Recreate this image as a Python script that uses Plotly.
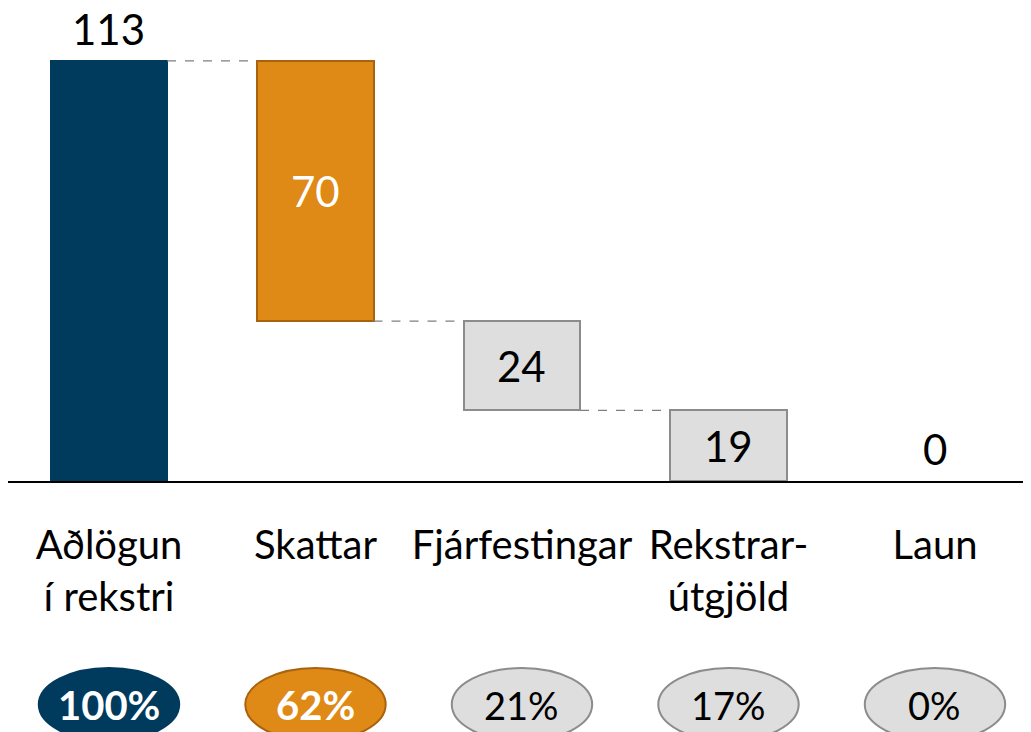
import plotly.graph_objects as go

categories = ["Aðlögun<br>í rekstri", "Skattar", "Fjárfestingar", "Rekstrar-<br>útgjöld", "Laun"]
values = [113, 70, 24, 19, 0]
percent_labels = ["100%", "62%", "21%", "17%", "0%"]

fill_colors = ["#003A5D", "#DF8916", "#DEDEDE", "#DEDEDE", "#DEDEDE"]
line_colors = ["#003A5D", "#A9630F", "#8C8C8C", "#8C8C8C", "#8C8C8C"]
text_colors = ["black", "white", "black", "black", "black"]
pct_text_colors = ["white", "white", "black", "black", "black"]
pct_bold = [True, True, False, False, False]

# waterfall bases: first bar is total, the rest step down
bases = []
level = 0
for i, v in enumerate(values):
    if i == 0:
        bases.append(0)
        level = v
    else:
        level = level - v
        bases.append(level)

xs = list(range(len(categories)))
W = 0.562
FONT = "Lato"

fig = go.Figure()
fig.add_trace(go.Bar(
    x=xs, y=values, base=bases, width=W,
    marker=dict(color=fill_colors, line=dict(color=line_colors,
                                             width=[0 if v == 0 else 2 for v in values])),
    hoverinfo="skip", showlegend=False,
))

# connectors
tops = [b + v for b, v in zip(bases, values)]
shapes = []
for i in range(len(values) - 1):
    lvl = tops[i] if i == 0 else bases[i]
    if lvl <= 0:
        continue
    shapes.append(dict(type="line", xref="x", yref="y",
                       x0=i + W / 2, x1=i + 1 - W / 2, y0=lvl, y1=lvl,
                       line=dict(color="#7F7F7F", width=1.3, dash="dash")))

# value labels
annotations = []
for i, v in enumerate(values):
    if i == 0 or v == 0:
        annotations.append(dict(x=i, y=tops[i], xref="x", yref="y", text=str(v),
                                showarrow=False, yanchor="bottom", yshift=6, borderpad=0,
                                font=dict(family=FONT, size=42, color="black")))
    else:
        annotations.append(dict(x=i, y=bases[i] + v / 2, xref="x", yref="y", text=str(v),
                                showarrow=False, yanchor="middle",
                                font=dict(family=FONT, size=42, color=text_colors[i])))

# percentage ellipses below
FIG_W, FIG_H = 1023, 724
PLOT_H = 473.0
def py(pix):
    return (PLOT_H - pix) / PLOT_H

for i, p in enumerate(percent_labels):
    shapes.append(dict(type="circle", xref="x", yref="paper",
                       x0=i - 0.34, x1=i + 0.34, y0=py(733), y1=py(660),
                       fillcolor=fill_colors[i], line=dict(color=line_colors[i], width=2),
                       layer="above"))
    txt = f"<b>{p}</b>" if pct_bold[i] else p
    annotations.append(dict(x=i, y=py(697), xref="x", yref="paper", text=txt,
                            showarrow=False, yanchor="middle",
                            font=dict(family=FONT, size=40 if pct_bold[i] else 38,
                                      color=pct_text_colors[i])))

fig.update_layout(
    width=FIG_W, height=FIG_H,
    margin=dict(l=0, r=0, t=0, b=FIG_H - int(PLOT_H), autoexpand=False),
    plot_bgcolor="white", paper_bgcolor="white",
    bargap=0,
    shapes=shapes, annotations=annotations,
    xaxis=dict(range=[-0.489, 4.465], tickmode="array", tickvals=xs, ticktext=categories,
               showline=True, linecolor="black", linewidth=2, showgrid=False, zeroline=False,
               ticks="", ticklabelstandoff=28, automargin=False,
               tickfont=dict(family=FONT, size=40, color="black")),
    yaxis=dict(range=[0, 127.25], visible=False, showgrid=False, zeroline=False,
               automargin=False),
)

fig.write_html("out.html")
